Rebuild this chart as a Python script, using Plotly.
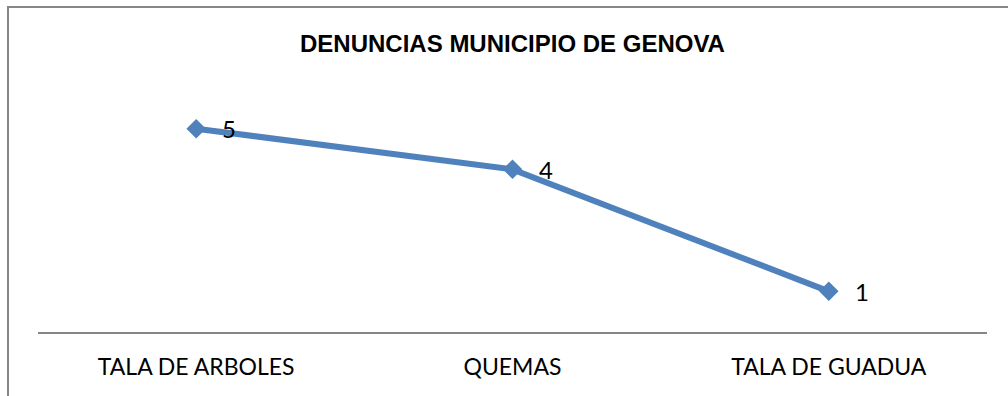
import plotly.graph_objects as go

# Denuncias por tipo en el municipio de Génova
categorias = ["TALA DE ARBOLES", "QUEMAS", "TALA DE GUADUA"]
denuncias = [5, 4, 1]

AZUL = "#4F81BD"
GRIS = "#868686"
FUENTE = "Lato, Carlito, Calibri, sans-serif"

fig = go.Figure(
    go.Scatter(
        x=categorias,
        y=denuncias,
        mode="lines+markers",
        line=dict(color=AZUL, width=6),
        marker=dict(symbol="diamond", size=15, color=AZUL),
        cliponaxis=False,
        hoverinfo="x+y",
    )
)

# value labels to the right of each point
for cat, val in zip(categorias, denuncias):
    fig.add_annotation(
        x=cat,
        y=val,
        text=str(val),
        showarrow=False,
        xanchor="left",
        yanchor="middle",
        xshift=24,
        yshift=0,
        font=dict(family=FUENTE, size=24, color="black"),
    )

W, H = 1008, 396
L, R, T, B = 38, 21, 88, 64
pw, ph = W - L - R, H - T - B

def px_x(p):
    return (p - L) / pw

def px_y(p):
    return (H - B - p) / ph

fig.update_layout(
    width=W,
    height=H,
    margin=dict(l=L, r=R, t=T, b=B),
    paper_bgcolor="white",
    plot_bgcolor="white",
    showlegend=False,
    title=dict(
        text="<b>DENUNCIAS MUNICIPIO DE GENOVA</b>",
        font=dict(family="Liberation Sans, Arial, sans-serif", size=24, color="black"),
        x=0.5,
        xref="paper",
        xanchor="center",
        y=1 - 44 / H,
        yref="container",
        yanchor="middle",
    ),
    xaxis=dict(
        type="category",
        range=[-0.5, 2.5],
        showgrid=False,
        zeroline=False,
        showline=True,
        linecolor=GRIS,
        linewidth=2,
        ticks="",
        ticklabelstandoff=13,
        tickfont=dict(family=FUENTE, size=23, color="black"),
        fixedrange=True,
    ),
    yaxis=dict(
        range=[0, 6],
        visible=False,
        showgrid=False,
        zeroline=False,
        fixedrange=True,
    ),
    shapes=[
        # chart-area frame (top and left edges visible)
        dict(
            type="rect",
            xref="paper",
            yref="paper",
            x0=px_x(8),
            x1=px_x(1030),
            y0=px_y(430),
            y1=px_y(7),
            line=dict(color=GRIS, width=2),
            fillcolor="rgba(0,0,0,0)",
            layer="below",
        )
    ],
)

fig.write_html("out.html")
